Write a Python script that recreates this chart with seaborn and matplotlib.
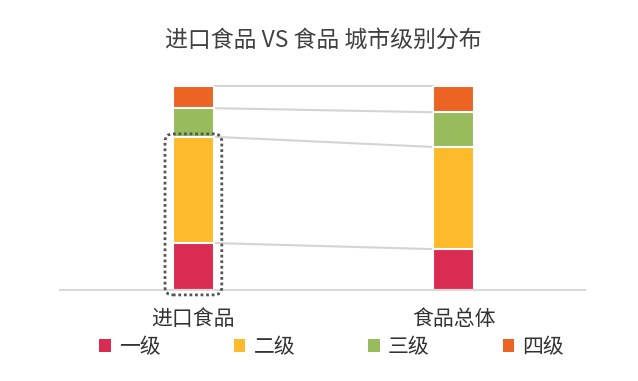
import numpy as np
import pandas as pd
import matplotlib
matplotlib.use("Agg")
import matplotlib.pyplot as plt
from matplotlib.patches import Patch, FancyBboxPatch
import seaborn as sns

# dane (udział procentowy)
categories = ["进口食品", "食品总体"]
levels = ["一级", "二级", "三级", "四级"]
level_1 = [23, 20]
level_2 = [52, 50]
level_3 = [14, 17]
level_4 = [11, 13]
colors = ["#DA2C52", "#FDBB2C", "#98BB5C", "#EB6424"]

sns.set_theme(style="white")
plt.rcParams["font.family"] = ["Noto Sans CJK SC", "DejaVu Sans"]
plt.rcParams["font.weight"] = "light"

df = pd.DataFrame({"category": categories, "一级": level_1, "二级": level_2,
                   "三级": level_3, "四级": level_4})
cum = df[levels].cumsum(axis=1)

fig = plt.figure(figsize=(6.38, 3.81), dpi=100)
ax = fig.add_axes([60 / 638, 1 - 290 / 381, 525 / 638, 204.3 / 381])

bar_w = 0.157
# rysowanie od najwyższej sumy, żeby uzyskać słupki skumulowane
for lvl, col in reversed(list(zip(levels, colors))):
    sns.barplot(data=cum.assign(category=df["category"]), x="category", y=lvl,
                color=col, width=bar_w, edgecolor="white", linewidth=1.5,
                saturation=1, ax=ax)

# linie serii łączące słupki
for lvl in levels:
    ax.plot([0 + bar_w / 2, 1 - bar_w / 2], [cum[lvl][0], cum[lvl][1]],
            color="#D4D4D4", lw=1.5, zorder=0, clip_on=False)

ax.set_xlim(-0.512, 1.503)
ax.set_ylim(0, 100)
ax.set_xlabel("")
ax.set_ylabel("")
ax.set_yticks([])
ax.tick_params(axis="x", length=0, pad=13, labelsize=15, labelcolor="#333333")
for s in ["top", "left", "right"]:
    ax.spines[s].set_visible(False)
ax.spines["bottom"].set_color("#D9D9D9")
ax.spines["bottom"].set_linewidth(1.5)

# kropkowana ramka wokół dwóch dolnych segmentów
aspect = (260.5) / (2.043)
box = FancyBboxPatch((-0.109, -2.4), 0.218, cum["二级"][0] + 3.8,
                     boxstyle="round,pad=0,rounding_size=0.03",
                     mutation_aspect=aspect, fill=False, edgecolor="#555555",
                     linestyle=(0, (1, 1)), linewidth=2, clip_on=False, zorder=5)
ax.add_patch(box)

fig.text(0.507, 1 - 40 / 381, "进口食品 VS 食品 城市级别分布", ha="center", va="center",
         fontsize=16.5, color="#404040")

handles = [Patch(facecolor=c, edgecolor="none") for c in colors]
fig.legend(handles, levels, loc="center", bbox_to_anchor=(0.52, 1 - 347 / 381),
           ncol=4, frameon=False, fontsize=15, handlelength=0.55, handleheight=0.55,
           handletextpad=0.4, columnspacing=3.5, labelcolor="#333333")

fig.savefig("out.png", dpi=100)
